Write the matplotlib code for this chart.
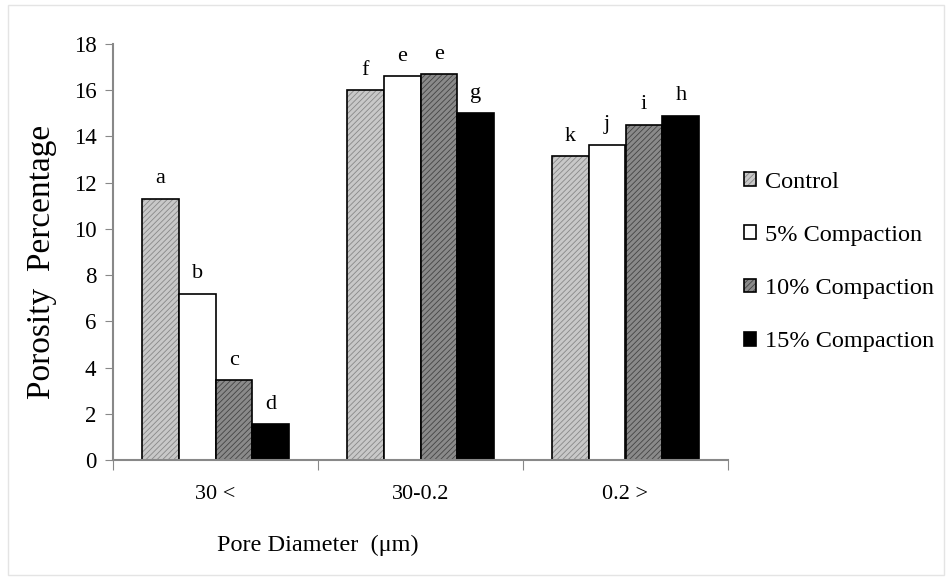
import matplotlib
matplotlib.use("Agg")
import matplotlib.pyplot as plt
import numpy as np

categories = ["30 <", "30-0.2", "0.2 >"]
series_names = ["Control", "5% Compaction", "10% Compaction", "15% Compaction"]
control = [11.3, 16.0, 13.15]
comp5 = [7.2, 16.6, 13.65]
comp10 = [3.45, 16.7, 14.5]
comp15 = [1.55, 15.0, 14.9]
letters = [["a", "f", "k"], ["b", "e", "j"], ["c", "e", "i"], ["d", "g", "h"]]
yticks = [0, 2, 4, 6, 8, 10, 12, 14, 16, 18]

plt.rcParams['font.family'] = ['Liberation Serif', 'DejaVu Serif']
plt.rcParams['hatch.linewidth'] = 0.6

fig = plt.figure(figsize=(9.52, 5.8), dpi=100)
ax = fig.add_axes([113/952, 1-460/580, (728-113)/952, (460-44)/580])

series = [control, comp5, comp10, comp15]
fills = ["#c8c8c8", "white", "#8a8a8a", "black"]
hatches = ["//////", None, "//////", None]
hcolors = ["#888888", "black", "#444444", "black"]
x = np.arange(len(categories))
w = 0.18
for i, (vals, fc, h, hc) in enumerate(zip(series, fills, hatches, hcolors)):
    pos = x + (i - 1.5) * w
    bars = ax.bar(pos, vals, width=w, color=fc, edgecolor="black", linewidth=1.2,
                  hatch=h, label=series_names[i], zorder=2)
    if h:
        for b in bars:
            b._hatch_color = matplotlib.colors.to_rgba(hc)
    for p, v, l in zip(pos, vals, letters[i]):
        ax.text(p, v + 0.45, l, ha="center", va="bottom", fontsize=16)

ax.set_xlim(-0.5, 2.5)
ax.set_ylim(0, 18)
ax.set_yticks(yticks)
ax.tick_params(axis="y", labelsize=16.5, length=6, color="#888888", direction="out", pad=6)
ax.set_xticks([-0.5, 0.5, 1.5, 2.5])
ax.set_xticklabels([])
ax.tick_params(axis="x", which="major", length=7, color="#888888", direction="out")
ax.set_xticks(x, minor=True)
ax.set_xticklabels(categories, minor=True, fontsize=16)
ax.tick_params(axis="x", which="minor", length=0, pad=18)
for s in ["top", "right"]:
    ax.spines[s].set_visible(False)
for s in ["left", "bottom"]:
    ax.spines[s].set_color("#888888")
    ax.spines[s].set_linewidth(1.5)

ax.set_ylabel("Porosity  Percentage", fontsize=24)
ax.yaxis.set_label_coords((57-113)/615, (460-262)/416)
ax.set_xlabel("Pore Diameter  (μm)", fontsize=17.5)
ax.xaxis.set_label_coords((318-113)/615, -0.18)

leg = ax.legend(loc="center left", bbox_to_anchor=(1.026, (460-262)/416), frameon=False, fontsize=17.5,
                handlelength=0.5, handleheight=0.5, labelspacing=1.33, handletextpad=0.35,
                borderpad=0, borderaxespad=0)

fig.patches.append(plt.Rectangle((0.008, 0.008), 0.984, 0.984, transform=fig.transFigure,
                                 fill=False, edgecolor="#e4e4e4", linewidth=1))
fig.savefig("out.png", dpi=100, facecolor="white")
